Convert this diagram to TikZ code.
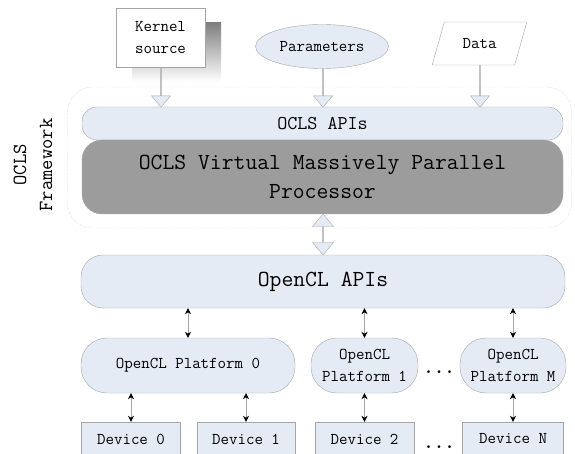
\documentclass[tikz,border=0pt]{standalone}
\usepackage{tikz}
\usetikzlibrary{shapes.geometric,shapes.arrows,arrows.meta}
\definecolor{pane}{RGB}{229,235,245}
\definecolor{edge}{RGB}{165,165,165}
\definecolor{core}{RGB}{156,156,156}
\definecolor{shade}{RGB}{192,192,192}

\begin{document}
\begin{tikzpicture}[x=1pt,y=-1pt,
  box/.style={draw=edge,fill=pane,inner sep=0pt,align=center,
    font=\ttfamily\fontsize{16.5}{22}\selectfont},
  pill/.style={box,rounded corners=#1},
  feed/.style={single arrow,draw=edge,fill=pane,rotate=-90,inner sep=0pt,
    minimum width=19pt,single arrow head extend=5pt,single arrow head indent=0pt,
    single arrow tip angle=80},
  link/.style={{Stealth[length=6pt,width=6pt,color=black]}-{Stealth[length=6pt,width=6pt,color=black]},
    draw=gray!70,semithick},
  gap/.style={font=\ttfamily\bfseries\fontsize{20}{20}\selectfont,inner sep=0pt}]
  \useasboundingbox (0,0) rectangle (575,454);
  \clip (0,0) rectangle (575,454);

  % inputs
  \fill[shade] (132,23) rectangle (221,82);
  \node[box,fill=white,minimum width=89pt,minimum height=59pt] (kernel) at (160.5,37.5) {Kernel\\source};
  \node[box,ellipse,minimum width=133pt,minimum height=44pt] (params) at (322,46.5) {Parameters};
  \node[box,fill=white,trapezium,trapezium left angle=60,trapezium right angle=120,
    trapezium stretches=true,minimum width=95pt,minimum height=43pt] (data) at (479.5,43.5) {Data};

  % framework
  \node[draw=gray!50,densely dotted,rounded corners=25pt,minimum width=504pt,minimum height=141pt]
    (frame) at (319.5,157.5) {};
  \node[rotate=90,align=center,font=\ttfamily\fontsize{20}{26}\selectfont] (framelabel) at (33,165) {OCLS\\Framework};
  \node[pill=15pt,minimum width=481pt,minimum height=33pt,font=\ttfamily\fontsize{19.5}{23}\selectfont]
    (oclsapi) at (322.5,123.5) {OCLS APIs};
  \node[pill=20pt,fill=core,minimum width=481pt,minimum height=74pt,font=\ttfamily\fontsize{23}{29}\selectfont]
    (vmpp) at (322.5,177) {OCLS Virtual Massively Parallel\\Processor};

  \node[feed,minimum height=40pt] (karrow) at (161,87) {};
  \node[feed,minimum height=39pt] (parrow) at (323,87.5) {};
  \node[feed,minimum height=42pt] (darrow) at (480,86) {};
  \node[double arrow,draw=edge,fill=pane,rotate=90,inner sep=0pt,minimum width=21pt,
    double arrow head extend=5pt,double arrow head indent=0pt,double arrow tip angle=80,
    minimum height=41pt] (bridge) at (323,234.5) {};

  % opencl layer
  \node[pill=22pt,minimum width=484pt,minimum height=53pt,font=\ttfamily\fontsize{23}{28}\selectfont]
    (oclapi) at (323,281.5) {OpenCL APIs};
  \node[pill=26pt,minimum width=214pt,minimum height=55pt] (plat0) at (188,365.5) {OpenCL Platform 0};
  \node[pill=26pt,minimum width=107pt,minimum height=55pt] (plat1) at (364.5,365.5) {OpenCL\\Platform 1};
  \node[pill=26pt,minimum width=106pt,minimum height=55pt] (platm) at (513,365.5) {OpenCL\\Platform M};
  \node[gap] (dotsp) at (439,372) {...};

  \node[box,minimum width=99pt,minimum height=34pt] (dev0) at (131,439) {Device 0};
  \node[box,minimum width=98pt,minimum height=34pt] (dev1) at (246,439) {Device 1};
  \node[box,minimum width=99pt,minimum height=34pt] (dev2) at (364.5,439) {Device 2};
  \node[box,minimum width=101pt,minimum height=34pt] (devn) at (513,439) {Device N};
  \node[gap] (dotsd) at (439,447) {...};

  \draw[link] (oclapi.south -| plat0.north) -- (plat0.north);
  \draw[link] (oclapi.south -| plat1.north) -- (plat1.north);
  \draw[link] (oclapi.south -| platm.north) -- (platm.north);
  \draw[link] (plat0.south -| dev0.north) -- (dev0.north);
  \draw[link] (plat0.south -| dev1.north) -- (dev1.north);
  \draw[link] (plat1.south) -- (dev2.north);
  \draw[link] (platm.south) -- (devn.north);
\end{tikzpicture}
\end{document}
